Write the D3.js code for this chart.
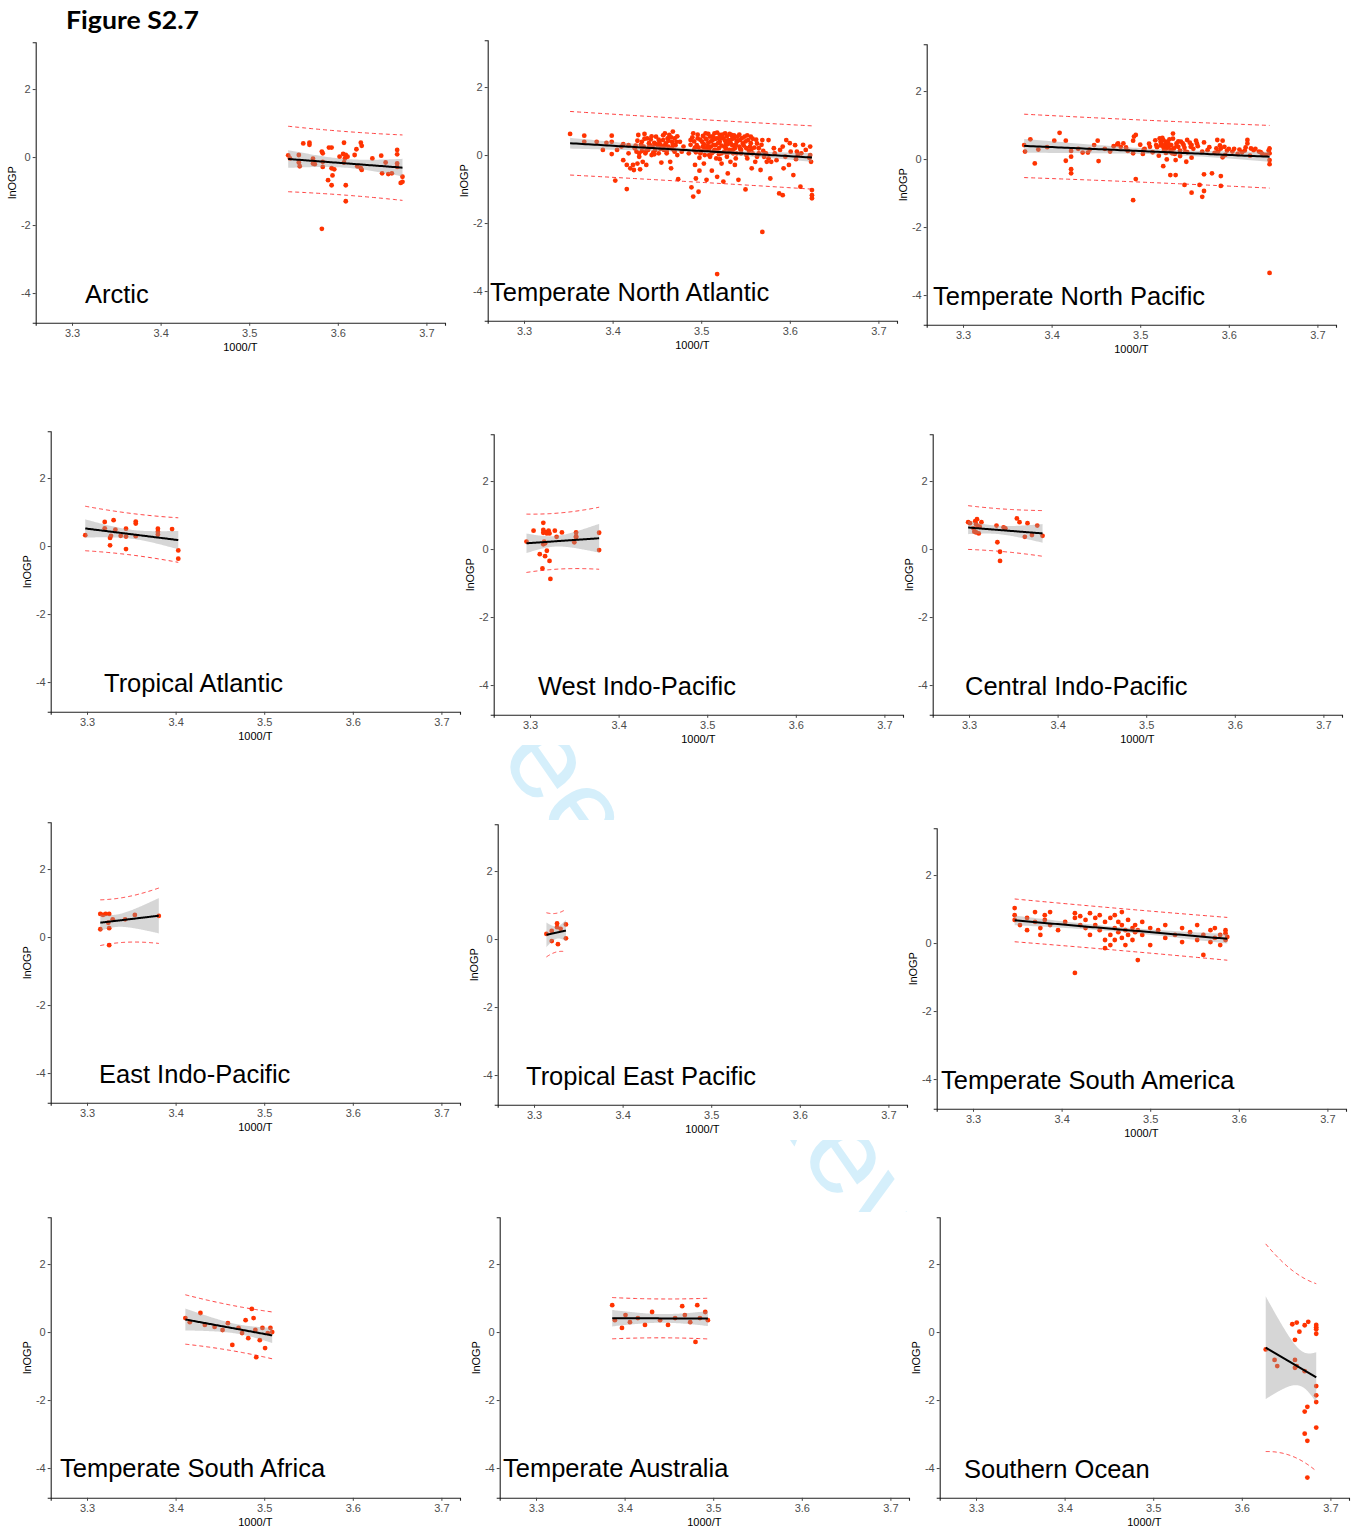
<!DOCTYPE html>
<html>
<head>
<meta charset="utf-8">
<script src="https://cdn.jsdelivr.net/npm/d3@7"></script>
<style>
  body { margin: 0; background: #fff; }
  text { font-family: "Liberation Sans", Arial, sans-serif; }
</style>
</head>
<body>
<svg id="fig" width="1354" height="1530"></svg>
<script>
// ---- data: (1000/T, lnOGP) observations per marine realm ----
const regionNames = [
  "Arctic", "Temperate North Atlantic", "Temperate North Pacific",
  "Tropical Atlantic", "West Indo-Pacific", "Central Indo-Pacific",
  "East Indo-Pacific", "Tropical East Pacific", "Temperate South America",
  "Temperate South Africa", "Temperate Australia", "Southern Ocean"
];

const xTicks = [3.3, 3.4, 3.5, 3.6, 3.7];
const yTicks = [-4, -2, 0, 2];
const xLimits = [3.28, 3.70];
const yLimits = [-4.5, 3.0];

const arctic = [[3.544,0.05],[3.546,-0.04],[3.556,0.06],[3.556,-0.16],[3.557,-0.27],[3.561,0.40],[3.568,0.42],[3.568,0.36],[3.572,-0.05],[3.572,-0.19],[3.574,-0.21],[3.582,0.16],[3.583,0.11],[3.583,-0.14],[3.583,-0.29],[3.582,-2.11],[3.589,-0.68],[3.590,0.28],[3.593,0.28],[3.593,-0.33],[3.596,-0.36],[3.594,-0.54],[3.593,-0.83],[3.602,0.01],[3.606,0.09],[3.607,0.42],[3.608,-0.04],[3.609,0.06],[3.611,0.01],[3.609,-0.83],[3.609,-1.30],[3.607,-0.16],[3.619,0.06],[3.621,0.23],[3.622,-0.27],[3.626,0.42],[3.627,0.33],[3.626,-0.33],[3.627,-0.38],[3.639,-0.04],[3.649,0.04],[3.650,-0.48],[3.654,-0.16],[3.657,-0.50],[3.661,-0.48],[3.667,0.21],[3.667,0.08],[3.667,-0.19],[3.667,-0.29],[3.673,-0.58],[3.673,-0.73],[3.671,-0.76]];

const northAtlantic = [[3.352,0.62],[3.368,0.57],[3.368,0.39],[3.382,0.39],[3.389,0.15],[3.393,0.36],[3.399,0.57],[3.399,0.39],[3.399,0.03],[3.403,-0.75],[3.410,0.25],[3.412,-0.15],[3.416,-0.29],[3.416,-1.00],[3.418,0.29],[3.420,-0.39],[3.423,-0.29],[3.424,-0.44],[3.427,0.10],[3.428,-0.25],[3.429,0.59],[3.430,-0.05],[3.431,-0.42],[3.433,0.39],[3.434,-0.20],[3.435,0.25],[3.436,0.62],[3.437,0.05],[3.438,-0.29],[3.439,0.49],[3.440,0.15],[3.442,0.29],[3.443,0.46],[3.444,0.00],[3.445,0.25],[3.447,0.36],[3.448,0.15],[3.449,0.54],[3.451,0.29],[3.452,0.05],[3.453,0.39],[3.455,-0.22],[3.456,0.25],[3.457,0.44],[3.458,0.15],[3.459,0.64],[3.460,0.34],[3.462,0.49],[3.463,0.25],[3.464,0.59],[3.465,-0.20],[3.466,-0.39],[3.467,0.39],[3.468,0.69],[3.469,0.15],[3.470,0.49],[3.471,0.29],[3.472,0.39],[3.474,-0.71],[3.476,0.39],[3.478,0.10],[3.488,0.44],[3.489,-0.95],[3.491,-1.22],[3.491,0.64],[3.492,0.15],[3.493,-0.29],[3.494,-0.69],[3.495,0.29],[3.496,0.49],[3.497,-1.08],[3.498,-0.46],[3.499,0.05],[3.501,0.39],[3.502,0.25],[3.503,-0.25],[3.505,0.64],[3.506,0.46],[3.506,-0.73],[3.507,0.15],[3.508,0.36],[3.509,0.00],[3.510,0.54],[3.511,0.25],[3.512,-0.46],[3.513,0.44],[3.514,0.10],[3.515,0.64],[3.516,0.29],[3.517,-0.10],[3.518,0.49],[3.518,-0.64],[3.520,0.20],[3.521,0.59],[3.521,0.39],[3.523,0.05],[3.523,-0.25],[3.525,0.49],[3.525,-0.78],[3.526,0.25],[3.527,0.64],[3.528,0.34],[3.529,-0.05],[3.530,-0.54],[3.531,0.44],[3.532,0.15],[3.533,-0.20],[3.534,0.59],[3.535,0.29],[3.536,0.05],[3.537,0.49],[3.538,-0.29],[3.538,0.20],[3.540,0.39],[3.541,0.54],[3.542,-0.73],[3.543,0.25],[3.544,0.44],[3.545,0.05],[3.547,0.34],[3.549,0.54],[3.550,-1.01],[3.551,0.20],[3.552,-0.10],[3.553,0.44],[3.555,0.25],[3.556,0.54],[3.557,-0.39],[3.558,0.05],[3.561,-0.20],[3.563,0.34],[3.565,0.20],[3.567,-0.44],[3.569,0.44],[3.571,-0.05],[3.573,0.05],[3.574,-0.20],[3.576,0.44],[3.578,-0.69],[3.579,-0.20],[3.582,0.20],[3.588,-1.13],[3.593,-0.39],[3.592,-1.18],[3.596,0.44],[3.599,-0.29],[3.604,-0.59],[3.606,0.29],[3.608,0.10],[3.609,0.00],[3.612,-0.93],[3.623,0.25],[3.623,0.00],[3.624,-0.20],[3.625,-1.03],[3.625,-1.18],[3.625,-1.27],[3.569,-2.26],[3.518,-3.50],
  [3.488,0.30],[3.490,0.52],[3.492,0.40],[3.494,0.08],[3.496,0.60],[3.497,0.22],[3.499,0.45],[3.500,0.12],[3.502,0.56],[3.503,0.32],[3.504,0.00],[3.505,0.48],[3.507,0.26],[3.508,0.62],[3.509,0.18],[3.511,0.40],[3.512,0.05],[3.513,0.55],[3.514,0.30],[3.516,0.48],[3.517,0.14],[3.518,0.66],[3.519,0.35],[3.520,0.02],[3.522,0.50],[3.523,0.28],[3.524,0.60],[3.526,0.10],[3.527,0.42],[3.528,0.20],[3.529,0.55],[3.530,0.32],[3.531,0.08],[3.532,0.62],[3.533,0.38],[3.535,0.48],[3.536,0.16],[3.537,0.58],[3.539,0.30],[3.540,0.05],[3.541,0.42],[3.543,0.60],[3.544,0.18],[3.546,0.50],[3.548,0.28],[3.550,0.40],[3.552,0.58],[3.554,0.12],[3.556,0.35],[3.558,0.48],[3.560,0.22],[3.562,0.45],[3.565,0.05],[3.568,0.30],
  [3.425,0.20],[3.428,0.42],[3.430,0.05],[3.432,0.30],[3.436,0.48],[3.438,0.12],[3.441,0.35],[3.444,0.55],[3.446,0.08],[3.449,0.32],[3.452,0.45],[3.454,0.18],[3.457,0.58],[3.459,0.28],[3.461,0.05],[3.463,0.42],[3.466,0.52],[3.468,0.30],[3.470,0.10],[3.473,0.55],
  [3.405,0.15],[3.412,0.32],[3.418,0.05],[3.426,0.28],[3.433,0.12],[3.441,0.22],[3.447,0.02],[3.454,0.30],[3.461,0.12],[3.467,0.20],[3.473,0.00],[3.480,0.25],[3.486,0.05],[3.493,0.22],[3.498,-0.08],[3.504,0.18],[3.510,-0.05],[3.515,0.15],[3.521,-0.12],[3.527,0.08],[3.533,0.10],[3.539,-0.10],[3.545,0.15],[3.551,0.00],[3.557,0.18],[3.563,-0.05],[3.570,0.12],[3.576,-0.10],[3.583,0.05],[3.589,0.15],[3.595,-0.05],[3.601,0.10],[3.607,-0.12],[3.613,0.05],[3.618,0.15],[3.622,-0.08],[3.585,-0.15],[3.592,0.25],[3.600,0.35],[3.615,0.30]];

const northPacific = [[3.369,0.41],[3.370,0.22],[3.376,0.58],[3.381,-0.13],[3.403,0.54],[3.409,0.77],[3.416,0.54],[3.416,-0.05],[3.422,0.24],[3.422,0.07],[3.422,-0.30],[3.422,-0.42],[3.435,0.19],[3.441,0.19],[3.443,0.28],[3.448,0.41],[3.452,0.54],[3.453,-0.06],[3.466,0.22],[3.470,0.38],[3.474,0.43],[3.475,0.46],[3.481,0.46],[3.484,0.34],[3.492,0.54],[3.492,0.17],[3.493,0.66],[3.495,0.71],[3.495,-0.59],[3.492,-1.21],[3.503,0.15],[3.504,0.28],[3.511,0.36],[3.518,0.41],[3.522,0.61],[3.523,0.51],[3.524,0.46],[3.526,0.36],[3.526,0.56],[3.527,0.26],[3.528,0.41],[3.529,0.51],[3.530,0.31],[3.531,0.46],[3.532,0.36],[3.533,0.58],[3.534,0.22],[3.535,0.41],[3.536,0.17],[3.537,0.75],[3.538,0.31],[3.526,-0.21],[3.530,-0.01],[3.534,-0.47],[3.540,-0.47],[3.540,-0.03],[3.541,0.46],[3.543,0.36],[3.545,0.09],[3.546,0.51],[3.549,0.41],[3.551,0.22],[3.552,-0.08],[3.553,0.56],[3.550,-0.76],[3.557,0.36],[3.558,0.41],[3.558,0.04],[3.558,-0.99],[3.563,0.54],[3.564,0.46],[3.567,-0.76],[3.570,-1.11],[3.572,0.49],[3.572,-0.45],[3.572,-0.94],[3.576,0.26],[3.581,-0.42],[3.587,0.56],[3.586,0.31],[3.591,0.31],[3.591,-0.50],[3.591,-0.79],[3.593,0.54],[3.595,0.36],[3.593,0.05],[3.604,0.22],[3.612,0.28],[3.619,0.34],[3.621,0.56],[3.621,0.46],[3.625,0.31],[3.634,0.22],[3.646,0.31],[3.646,0.17],[3.646,-0.03],[3.646,-0.15],[3.646,-3.35],
  [3.505,0.30],[3.510,0.45],[3.514,0.20],[3.517,0.55],[3.519,0.35],[3.521,0.10],[3.523,0.40],[3.525,0.62],[3.527,0.30],[3.529,0.18],[3.531,0.50],[3.533,0.42],[3.535,0.28],[3.537,0.60],[3.539,0.15],[3.541,0.38],[3.543,0.52],[3.545,0.25],[3.548,0.46],[3.550,0.33],[3.553,0.20],[3.556,0.48],[3.560,0.30],[3.565,0.38],[3.570,0.22],[3.578,0.35],[3.584,0.18],[3.590,0.40],[3.598,0.25],[3.606,0.30],[3.615,0.20],[3.628,0.26],[3.638,0.15],[3.460,0.30],[3.478,0.36],[3.486,0.24],[3.500,0.42],[3.430,0.30],[3.395,0.35],[3.385,0.28],
  [3.600,0.30],[3.610,0.15],[3.618,0.25],[3.624,0.10],[3.630,0.30],[3.636,0.20],[3.642,0.12],[3.645,0.25],[3.588,0.22],[3.596,0.12]];

const tropicalAtlantic = [[3.298,0.32],[3.320,0.71],[3.320,0.52],[3.326,0.24],[3.327,0.30],[3.326,0.02],[3.330,0.76],[3.332,0.48],[3.338,0.30],[3.344,0.51],[3.344,0.28],[3.344,-0.09],[3.355,0.72],[3.355,0.66],[3.355,0.29],[3.380,0.51],[3.380,0.42],[3.380,0.34],[3.396,0.50],[3.403,-0.13],[3.403,-0.37]];

const westIndoPacific = [[3.296,0.22],[3.304,0.54],[3.315,0.77],[3.315,0.56],[3.315,0.48],[3.318,0.50],[3.319,0.46],[3.321,0.54],[3.322,0.46],[3.316,0.22],[3.317,0.17],[3.315,0.14],[3.328,0.54],[3.330,0.36],[3.336,0.49],[3.311,-0.15],[3.317,-0.21],[3.319,-0.05],[3.322,-0.35],[3.314,-0.57],[3.323,-0.88],[3.352,0.49],[3.352,0.34],[3.350,0.20],[3.352,0.38],[3.378,0.48],[3.378,-0.03]];

const centralIndoPacific = [[3.299,0.79],[3.301,0.76],[3.305,0.61],[3.307,0.82],[3.309,0.88],[3.308,0.73],[3.310,0.66],[3.314,0.79],[3.306,0.51],[3.308,0.49],[3.311,0.46],[3.312,0.66],[3.331,0.69],[3.332,0.20],[3.335,-0.08],[3.335,-0.35],[3.339,0.64],[3.341,0.61],[3.354,0.90],[3.357,0.79],[3.363,0.36],[3.366,0.76],[3.371,0.41],[3.377,0.69],[3.383,0.39]];

const eastIndoPacific = [[3.315,0.68],[3.318,0.65],[3.321,0.68],[3.325,0.68],[3.315,0.23],[3.324,0.42],[3.325,0.26],[3.329,0.52],[3.343,0.52],[3.354,0.65],[3.381,0.62],[3.325,-0.24]];

const tropicalEastPacific = [[3.314,0.15],[3.320,0.24],[3.326,0.46],[3.326,0.35],[3.330,0.30],[3.336,0.43],[3.336,0.02],[3.320,-0.06],[3.327,-0.15]];

const southAmerica = [[3.347,1.03],[3.347,0.82],[3.347,0.68],[3.353,0.53],[3.361,0.74],[3.361,0.38],[3.370,0.62],[3.370,0.91],[3.376,0.44],[3.376,0.24],[3.381,0.82],[3.381,0.68],[3.387,0.53],[3.387,0.91],[3.396,0.38],[3.404,0.62],[3.415,-0.88],[3.415,0.88],[3.415,0.74],[3.421,0.79],[3.421,0.53],[3.427,0.68],[3.427,0.44],[3.432,0.88],[3.432,0.24],[3.438,0.53],[3.438,0.74],[3.443,0.38],[3.443,0.82],[3.449,0.62],[3.449,0.09],[3.449,-0.15],[3.455,0.24],[3.455,0.74],[3.455,-0.06],[3.460,0.44],[3.460,0.82],[3.460,0.09],[3.464,0.62],[3.464,0.32],[3.468,0.53],[3.468,0.15],[3.468,0.91],[3.472,0.38],[3.472,-0.06],[3.475,0.68],[3.475,0.24],[3.480,0.44],[3.480,0.09],[3.483,0.53],[3.483,0.32],[3.486,-0.50],[3.486,0.38],[3.491,0.24],[3.491,0.62],[3.500,0.44],[3.500,-0.06],[3.509,0.38],[3.517,0.53],[3.517,0.15],[3.528,0.24],[3.536,0.44],[3.536,0.03],[3.545,0.32],[3.553,0.53],[3.553,0.09],[3.560,-0.35],[3.560,0.24],[3.568,0.38],[3.568,0.03],[3.573,0.44],[3.573,0.15],[3.579,0.24],[3.579,-0.06],[3.585,0.38],[3.585,0.09],[3.585,0.29],[3.587,0.18]];

const southAfrica = [[3.411,0.41],[3.416,0.29],[3.428,0.56],[3.433,0.21],[3.444,0.15],[3.453,0.06],[3.459,0.26],[3.464,-0.38],[3.471,0.12],[3.475,-0.03],[3.479,0.35],[3.482,-0.18],[3.486,0.68],[3.488,0.41],[3.490,0.06],[3.491,-0.74],[3.495,-0.24],[3.498,0.12],[3.501,-0.47],[3.504,-0.03],[3.507,0.12],[3.509,0.00]];

const australia = [[3.386,0.79],[3.389,0.35],[3.397,0.12],[3.401,0.50],[3.406,0.29],[3.415,0.41],[3.423,0.21],[3.431,0.59],[3.440,0.35],[3.449,0.21],[3.457,0.41],[3.465,0.76],[3.468,0.50],[3.474,0.29],[3.480,-0.29],[3.482,0.79],[3.485,0.41],[3.491,0.59],[3.494,0.35]];

const southernOcean = [[3.627,-0.51],[3.637,-0.82],[3.640,-1.00],[3.657,0.23],[3.662,0.28],[3.665,0.01],[3.660,-0.23],[3.671,0.20],[3.675,0.30],[3.660,-0.82],[3.660,-1.05],[3.662,-1.00],[3.671,-1.15],[3.684,0.21],[3.684,0.14],[3.684,0.08],[3.684,-0.05],[3.684,-1.59],[3.684,-1.86],[3.684,-2.06],[3.674,-2.20],[3.671,-2.34],[3.684,-2.81],[3.671,-2.99],[3.674,-3.20],[3.674,-4.28]];

const regionData = [arctic, northAtlantic, northPacific, tropicalAtlantic, westIndoPacific,
  centralIndoPacific, eastIndoPacific, tropicalEastPacific, southAmerica, southAfrica,
  australia, southernOcean];

// ---- layout (page pixels) ----
const panelW = 409.3, panelH = 280.5;
const panelOrigin = [
  [35.7, 42.3], [487.7, 40.3], [926.7, 44.3],
  [50.7, 431.3], [493.7, 434.3], [932.7, 434.3],
  [50.7, 822.3], [497.7, 824.3], [936.7, 828.3],
  [50.7, 1217.3], [499.7, 1217.3], [939.7, 1217.3]
];
const labelAt = [
  [85, 303], [490, 301], [933, 305],
  [104, 692], [538, 695], [965, 695],
  [99, 1083], [526, 1085], [941, 1089],
  [60, 1477], [503, 1477], [964, 1478]
];

const svg = d3.select("#fig");

// faint diagonal review stamp showing through the gaps between panels
const defs = svg.append("defs");
defs.append("clipPath").attr("id", "gapA")
  .append("rect").attr("x", 0).attr("y", 745).attr("width", 1354).attr("height", 75);
defs.append("clipPath").attr("id", "gapB")
  .append("rect").attr("x", 0).attr("y", 1140).attr("width", 907).attr("height", 72);
const stamp = svg.append("g").attr("fill", "#d5effb")
  .style("font-family", "'Liberation Sans', Arial, sans-serif").style("font-size", "120px");
stamp.append("g").attr("clip-path", "url(#gapA)")
  .append("text").attr("transform", "translate(452,690) rotate(55)").text("Peer");
stamp.append("g").attr("clip-path", "url(#gapB)")
  .append("text").attr("transform", "translate(748,1080) rotate(55)").text("Review");

// figure heading
svg.append("text").attr("x", 66).attr("y", 29)
  .style("font-family", "Lato, 'Open Sans', sans-serif").style("font-weight", 700)
  .style("font-size", "25px").attr("textLength", 133).attr("lengthAdjust", "spacingAndGlyphs")
  .text("Figure S2.7");

// two-sided 97.5% Student-t quantile (Cornish–Fisher expansion)
function tQuantile(df) {
  const z = 1.959964;
  const g1 = (z ** 3 + z) / 4;
  const g2 = (5 * z ** 5 + 16 * z ** 3 + 3 * z) / 96;
  const g3 = (3 * z ** 7 + 19 * z ** 5 + 17 * z ** 3 - 15 * z) / 384;
  return z + g1 / df + g2 / df ** 2 + g3 / df ** 3;
}

// ordinary least squares with confidence and prediction bands
function linearFit(pts) {
  const n = pts.length;
  const mx = d3.mean(pts, d => d[0]), my = d3.mean(pts, d => d[1]);
  const sxx = d3.sum(pts, d => (d[0] - mx) ** 2);
  const sxy = d3.sum(pts, d => (d[0] - mx) * (d[1] - my));
  const b = sxy / sxx, a = my - b * mx;
  const s2 = d3.sum(pts, d => (d[1] - a - b * d[0]) ** 2) / (n - 2);
  const t = tQuantile(n - 2);
  const [x0, x1] = d3.extent(pts, d => d[0]);
  return d3.range(80).map(i => {
    const x = x0 + (x1 - x0) * i / 79;
    const yhat = a + b * x;
    const se = Math.sqrt(s2 * (1 / n + (x - mx) ** 2 / sxx));
    const sp = Math.sqrt(s2 + se * se);
    return { x, yhat, ciLo: yhat - t * se, ciHi: yhat + t * se, piLo: yhat - t * sp, piHi: yhat + t * sp };
  });
}

const xPad = (xLimits[1] - xLimits[0]) * 0.05, yPad = (yLimits[1] - yLimits[0]) * 0.05;
const x = d3.scaleLinear().domain([xLimits[0] - xPad, xLimits[1] + xPad]).range([0, panelW]);
const y = d3.scaleLinear().domain([yLimits[0] - yPad, yLimits[1] + yPad]).range([panelH, 0]);

regionNames.forEach((name, i) => {
  const pts = regionData[i];
  const g = svg.append("g").attr("transform", `translate(${panelOrigin[i][0]},${panelOrigin[i][1]})`);

  // axes
  const xAxis = g.append("g").attr("transform", `translate(0,${panelH})`)
    .call(d3.axisBottom(x).tickValues(xTicks).tickFormat(d3.format(".1f")).tickSizeOuter(0).tickSize(3).tickPadding(3));
  const yAxis = g.append("g")
    .call(d3.axisLeft(y).tickValues(yTicks).tickFormat(d => d).tickSizeOuter(0).tickSize(3).tickPadding(2));
  [xAxis, yAxis].forEach(ax => {
    ax.select(".domain").attr("stroke", "#222").attr("stroke-width", 1.1);
    ax.selectAll(".tick line").attr("stroke", "#444");
    ax.selectAll(".tick text").attr("fill", "#4d4d4d")
      .style("font-family", "'Liberation Sans', Arial, sans-serif").style("font-size", "11px");
  });
  g.append("text").attr("x", panelW / 2).attr("y", panelH + 28).attr("text-anchor", "middle")
    .style("font-size", "11px").text("1000/T");
  g.append("text").attr("transform", `translate(-20,${panelH / 2}) rotate(-90)`)
    .attr("text-anchor", "middle").style("font-size", "11px").text("lnOGP");

  // observations
  g.append("g").selectAll("circle").data(pts).join("circle")
    .attr("cx", d => x(d[0])).attr("cy", d => y(d[1])).attr("r", 2.4)
    .attr("fill", "#ff3300");

  // fitted line, 95% confidence band and 95% prediction limits
  const fit = linearFit(pts);
  g.append("path").datum(fit)
    .attr("d", d3.area().x(d => x(d.x)).y0(d => y(d.ciLo)).y1(d => y(d.ciHi)))
    .attr("fill", "#999").attr("fill-opacity", 0.4);
  g.append("path").datum(fit)
    .attr("d", d3.line().x(d => x(d.x)).y(d => y(d.yhat)))
    .attr("fill", "none").attr("stroke", "#000").attr("stroke-width", 2);
  ["piLo", "piHi"].forEach(k => {
    g.append("path").datum(fit)
      .attr("d", d3.line().x(d => x(d.x)).y(d => y(d[k])))
      .attr("fill", "none").attr("stroke", "#ff2020").attr("stroke-width", 1)
      .attr("stroke-dasharray", "4,3").attr("stroke-opacity", 0.85);
  });

  // realm name
  svg.append("text").attr("x", labelAt[i][0]).attr("y", labelAt[i][1])
    .style("font-size", "25.5px").attr("fill", "#000").text(name);
});
</script>
</body>
</html>
